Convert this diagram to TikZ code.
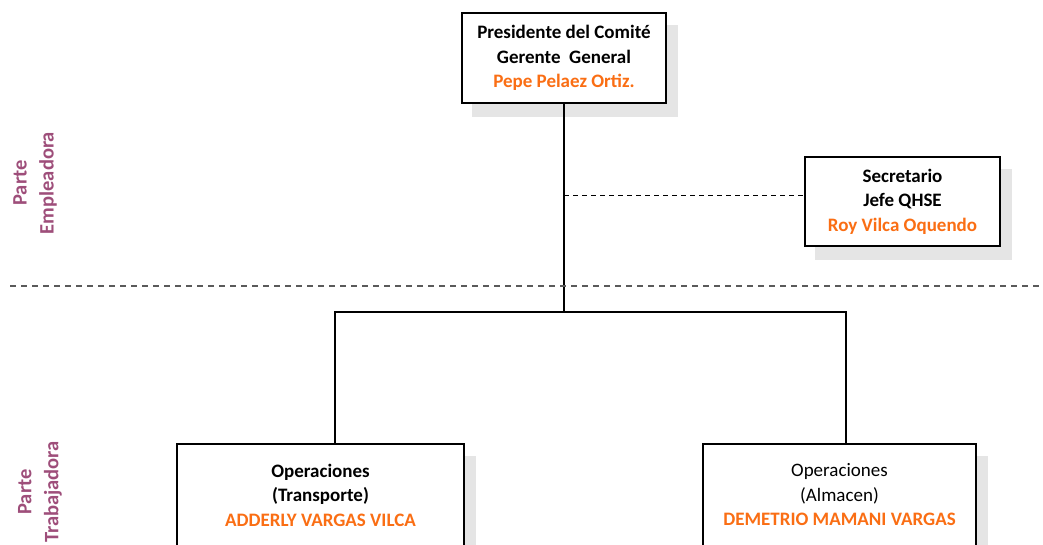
\documentclass[tikz,border=0pt]{standalone}
\usepackage{fontspec}
\setmainfont{Carlito}
\usetikzlibrary{backgrounds}
\definecolor{orng}{RGB}{250,110,20}
\definecolor{plum}{RGB}{158,78,122}
\definecolor{shade}{RGB}{229,229,229}
\definecolor{divgray}{RGB}{90,90,90}
\begin{document}
\begin{tikzpicture}[x=1pt,y=-1pt,
  orgbox/.style={draw=black, line width=1.3pt, fill=white, align=center,
    inner sep=0pt, font=\fontsize{19}{24.5}\selectfont},
  conn/.style={line width=1.3pt, black},
  shadowbox/.style={fill=shade},
  sidelabel/.style={rotate=90, align=center, text=plum, font=\bfseries\fontsize{20.5}{27}\selectfont}]
\useasboundingbox (0,0) rectangle (1043,544);
% boxes
\node[orgbox, minimum width=204pt, minimum height=90pt] (top) at (564,58)
  {\textbf{Presidente del Comité}\\\textbf{Gerente\ \ General}\\\textcolor{orng}{\textbf{Pepe Pelaez Ortiz.}}};
\node[orgbox, minimum width=195pt, minimum height=89pt] (sec) at (902.5,201.5)
  {\textbf{Secretario}\\\textbf{Jefe QHSE}\\\textcolor{orng}{\textbf{Roy Vilca Oquendo}}};
\node[orgbox, minimum width=287pt, minimum height=102pt] (bl) at (320.5,495)
  {\textbf{Operaciones}\\\textbf{(Transporte)}\\\textcolor{orng}{\textbf{ADDERLY VARGAS VILCA}}};
\node[orgbox, minimum width=273pt, minimum height=102pt] (br) at (839.5,495)
  {Operaciones\\(Almacen)\\\textcolor{orng}{\textbf{DEMETRIO MAMANI VARGAS}}};
% shadows
\begin{scope}[on background layer]
\foreach \n in {top,sec,bl,br}{
  \fill[shadowbox] ([shift={(11,13)}]\n.south west) rectangle ([shift={(11,13)}]\n.north east);
}
\end{scope}
% connectors
\coordinate (jl) at (335,312);
\coordinate (jr) at (846,312);
\coordinate (secin) at ([yshift=6pt]sec.west);
\draw[conn] (top.south) -- (top.south |- jl);
\draw[conn] (jl |- bl.north) -- (jl) -- (jr) -- (jr |- br.north);
\draw[conn, dash pattern=on 5pt off 4pt] (top.south |- secin) -- (secin);
% divider
\coordinate (dl) at (10,286);
\coordinate (dr) at (1043,286);
\draw[divgray, line width=1.5pt, dash pattern=on 6pt off 5pt] (dl) -- (dr);
% side labels
\node[sidelabel] (emp) at (35,183) {Parte\\Empleadora};
\node[sidelabel] (trab) at (40,492) {Parte\\Trabajadora};
\end{tikzpicture}
\end{document}
